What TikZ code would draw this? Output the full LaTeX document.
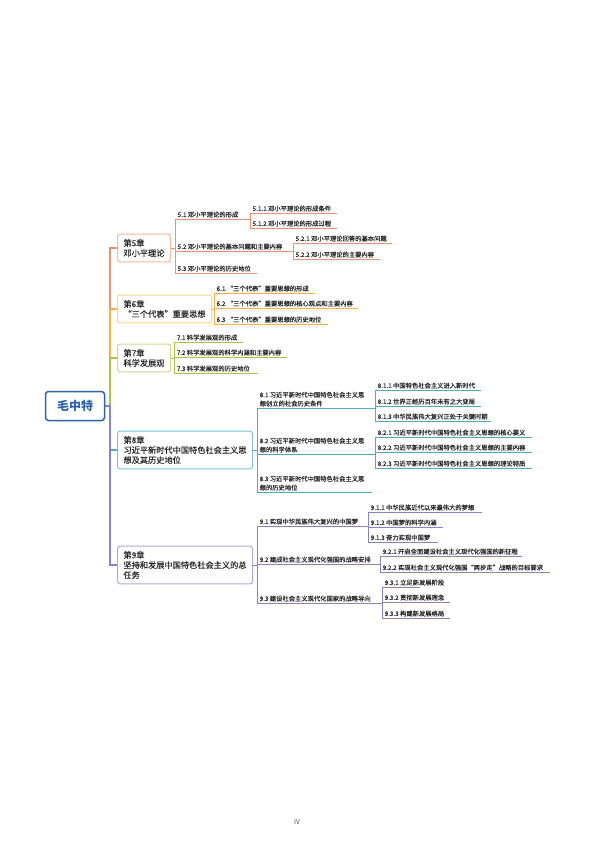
\documentclass[tikz,border=0pt]{standalone}
\usepackage{fontspec}
\setmainfont{Noto Sans CJK SC}
\newfontfamily\medfont[FakeBold=0.15]{Noto Sans CJK SC}
\definecolor{c5}{HTML}{F0906E}
\definecolor{c5b}{HTML}{F5B8A0}
\definecolor{c6}{HTML}{F9B13C}
\definecolor{c6b}{HTML}{FAD48E}
\definecolor{c7}{HTML}{ABC53E}
\definecolor{c7b}{HTML}{CADD8E}
\definecolor{c8}{HTML}{4AADC8}
\definecolor{c8b}{HTML}{7CC4D8}
\definecolor{c9}{HTML}{8484CC}
\definecolor{c9b}{HTML}{ABABDC}
\definecolor{rootc}{HTML}{2E62AE}
\definecolor{textc}{HTML}{262626}
\tikzset{
  rootbox/.style={draw=rootc, line width=1.5pt, rounded corners=3pt, fill=white,
    text=rootc, font=\fontsize{12}{14}\selectfont\bfseries,
    minimum width=59pt, minimum height=29pt, inner sep=2pt},
  chap/.style={line width=1pt, rounded corners=2.5pt, fill=white, align=left,
    text=textc, font=\fontsize{8.2}{10}\selectfont\medfont, inner xsep=6pt, inner ysep=5pt, anchor=west},
  leaf/.style={anchor=south west, align=left, text=textc,
    font=\fontsize{6.3}{8.8}\selectfont\medfont, inner xsep=1pt, inner ysep=1.3pt},
  leafline/.style={line width=0.8pt},
  chline/.style={line width=1.3pt},
  pagenum/.style={text=black!70, font=\fontsize{6.5}{8}\selectfont}
}
\newcommand\mmleaf[6]{%
  \coordinate (#1-l) at (#3,#5);
  \coordinate (#1-r) at (#4,#5);
  \draw[leafline,#2] (#1-l) -- (#1-r);
  \node[leaf] (#1) at ([xshift=1.5pt]#1-l) {#6};
}
\begin{document}
\begin{tikzpicture}[x=1pt,y=-1pt]
\useasboundingbox (0,0) rectangle (596,842);
\fill[white] (0,0) rectangle (596,842);

% root and chapters
\node[rootbox] (root) at (75,406) {毛中特};
\coordinate (trunk) at (110,406);
\node[chap,draw=c5b] (ch5) at (117,248) {第5章\\邓小平理论};
\node[chap,draw=c6b] (ch6) at (117,309) {第6章\\“三个代表”重要思想};
\node[chap,draw=c7b] (ch7) at (117,358) {第7章\\科学发展观};
\node[chap,draw=c8b] (ch8) at (117,450) {第8章\\习近平新时代中国特色社会主义思\\想及其历史地位};
\node[chap,draw=c9b] (ch9) at (117,565) {第9章\\坚持和发展中国特色社会主义的总\\任务};

\draw[chline,c5] (root.east) -- (trunk) |- (ch5.west);
\draw[chline,c6] (root.east) -- (trunk) |- (ch6.west);
\draw[chline,c7] (root.east) -- (trunk) |- (ch7.west);
\draw[chline,c8] (root.east) -- (trunk) |- (ch8.west);
\draw[chline,c9] (root.east) -- (trunk) |- (ch9.west);

% chapter 5
\mmleaf{t51}{c5}{175}{250}{219}{5.1 邓小平理论的形成}
\mmleaf{t511}{c5}{250}{337}{213}{5.1.1 邓小平理论的形成条件}
\mmleaf{t512}{c5}{250}{337}{228}{5.1.2 邓小平理论的形成过程}
\mmleaf{t52}{c5}{175}{293}{251}{5.2 邓小平理论的基本问题和主要内容}
\mmleaf{t521}{c5}{293}{392}{243}{5.2.1 邓小平理论回答的基本问题}
\mmleaf{t522}{c5}{293}{380}{259}{5.2.2 邓小平理论的主要内容}
\mmleaf{t53}{c5}{175}{257}{273}{5.3 邓小平理论的历史地位}
\draw[leafline,c5] (ch5.east) -- (ch5.east -| t51-l);
\draw[leafline,c5] (t51-l) -- (t53-l);
\draw[leafline,c5] (t511-l) -- (t512-l);
\draw[leafline,c5] (t521-l) -- (t522-l);

% chapter 6
\mmleaf{t61}{c6}{214}{315}{293}{6.1 “三个代表”重要思想的形成}
\mmleaf{t62}{c6}{214}{358}{308}{6.2 “三个代表”重要思想的核心观点和主要内容}
\mmleaf{t63}{c6}{214}{328}{324}{6.3 “三个代表”重要思想的历史地位}
\draw[leafline,c6] (ch6.east) -- (ch6.east -| t61-l);
\draw[leafline,c6] (t61-l) -- (t63-l);

% chapter 7
\mmleaf{t71}{c7}{174}{243}{342}{7.1 科学发展观的形成}
\mmleaf{t72}{c7}{174}{287}{357}{7.2 科学发展观的科学内涵和主要内容}
\mmleaf{t73}{c7}{174}{258}{373}{7.3 科学发展观的历史地位}
\draw[leafline,c7] (ch7.east) -- (ch7.east -| t71-l);
\draw[leafline,c7] (t71-l) -- (t73-l);

% chapter 8
\mmleaf{t81}{c8}{257}{375}{408}{8.1 习近平新时代中国特色社会主义思\\想创立的社会历史条件}
\mmleaf{t811}{c8}{375}{481}{390}{8.1.1 中国特色社会主义进入新时代}
\mmleaf{t812}{c8}{375}{481}{406}{8.1.2 世界正经历百年未有之大变局}
\mmleaf{t813}{c8}{375}{491}{421}{8.1.3 中华民族伟大复兴正处于关键时期}
\mmleaf{t82}{c8}{257}{375}{454}{8.2 习近平新时代中国特色社会主义思\\想的科学体系}
\mmleaf{t821}{c8}{375}{532}{437}{8.2.1 习近平新时代中国特色社会主义思想的核心要义}
\mmleaf{t822}{c8}{375}{532}{452}{8.2.2 习近平新时代中国特色社会主义思想的主要内容}
\mmleaf{t823}{c8}{375}{532}{468}{8.2.3 习近平新时代中国特色社会主义思想的理论特质}
\mmleaf{t83}{c8}{257}{372}{492}{8.3 习近平新时代中国特色社会主义思\\想的历史地位}
\draw[leafline,c8] (ch8.east) -- (ch8.east -| t81-l);
\draw[leafline,c8] (t81-l) -- (t83-l);
\draw[leafline,c8] (t811-l) -- (t813-l);
\draw[leafline,c8] (t821-l) -- (t823-l);

% chapter 9
\mmleaf{t91}{c9}{257}{368}{526}{9.1 实现中华民族伟大复兴的中国梦}
\mmleaf{t911}{c9}{368}{482}{512}{9.1.1 中华民族近代以来最伟大的梦想}
\mmleaf{t912}{c9}{368}{443}{527}{9.1.2 中国梦的科学内涵}
\mmleaf{t913}{c9}{368}{438}{542}{9.1.3 奋力实现中国梦}
\mmleaf{t92}{c9}{257}{380}{564}{9.2 建成社会主义现代化强国的战略安排}
\mmleaf{t921}{c9}{380}{522}{556}{9.2.1 开启全面建设社会主义现代化强国的新征程}
\mmleaf{t922}{c9}{380}{550}{572}{9.2.2 实现社会主义现代化强国“两步走”战略的目标要求}
\mmleaf{t93}{c9}{257}{382}{603}{9.3 建设社会主义现代化国家的战略导向}
\mmleaf{t931}{c9}{382}{420}{587}{9.3.1 立足新发展阶段}
\mmleaf{t932}{c9}{382}{450}{602}{9.3.2 贯彻新发展理念}
\mmleaf{t933}{c9}{382}{450}{618}{9.3.3 构建新发展格局}
\draw[leafline,c9] (ch9.east) -- (ch9.east -| t91-l);
\draw[leafline,c9] (t91-l) -- (t93-l);
\draw[leafline,c9] (t911-l) -- (t913-l);
\draw[leafline,c9] (t921-l) -- (t922-l);
\draw[leafline,c9] (t931-l) -- (t933-l);

\node[pagenum] (page) at (297,822) {IV};
\end{tikzpicture}
\end{document}
